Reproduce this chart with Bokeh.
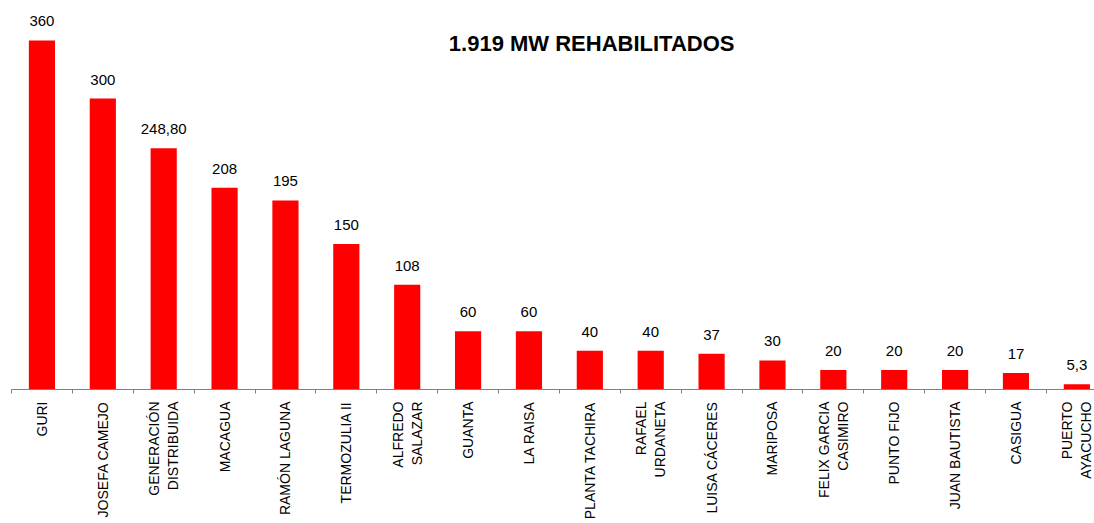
from bokeh.plotting import figure
from bokeh.models import Range1d, FixedTicker, ColumnDataSource, Label
from bokeh.core.properties import value
from bokeh.embed import file_html
from bokeh.resources import INLINE

categories = ["GURI", "JOSEFA CAMEJO", "GENERACIÓN\nDISTRIBUIDA", "MACAGUA", "RAMÓN LAGUNA",
              "TERMOZULIA II", "ALFREDO\nSALAZAR", "GUANTA", "LA RAISA", "PLANTA TACHIRA",
              "RAFAEL\nURDANETA", "LUISA CÁCERES", "MARIPOSA", "FELIX GARCIA\nCASIMIRO",
              "PUNTO FIJO", "JUAN BAUTISTA", "CASIGUA", "PUERTO\nAYACUCHO"]
values = [360, 300, 248.8, 208, 195, 150, 108, 60, 60, 40, 40, 37, 30, 20, 20, 20, 17, 5.3]
value_labels = ["360", "300", "248,80", "208", "195", "150", "108", "60", "60", "40", "40",
                "37", "30", "20", "20", "20", "17", "5,3"]
title_text = "1.919 MW REHABILITADOS"

xs = [i + 0.5 for i in range(len(categories))]
src = ColumnDataSource(dict(x=xs, top=values, lab=value_labels))

p = figure(width=1094, height=523, output_backend="svg", toolbar_location=None,
           x_range=Range1d(0, 17.79), y_range=Range1d(0, 401.2),
           min_border_left=11, min_border_right=0, min_border_top=0, min_border_bottom=134)
p.outline_line_color = None
p.xgrid.visible = False
p.ygrid.visible = False
p.yaxis.visible = False

p.vbar(x="x", top="top", width=0.43, bottom=0, source=src, color="#FF0000", line_color=None)
p.text(x="x", y="top", text="lab", source=src, text_align="center", text_baseline="alphabetic",
       y_offset=-19, text_font=value("Liberation Sans"), text_font_size="15px", text_color="#000000")

ax = p.xaxis[0]
ax.ticker = FixedTicker(ticks=xs, minor_ticks=list(range(len(categories) + 1)))
ax.major_label_overrides = {x: c for x, c in zip(xs, categories)}
ax.major_label_orientation = 1.5708
ax.major_label_text_font = "Liberation Sans"
ax.major_label_text_font_size = "14px"
ax.major_label_text_color = "#000000"
ax.major_label_text_align = "center"
ax.major_tick_line_color = None
ax.major_tick_in = 0
ax.major_tick_out = 4
ax.minor_tick_line_color = "#808080"
ax.minor_tick_in = 0
ax.minor_tick_out = 4
ax.axis_line_color = "#808080"
ax.major_label_standoff = 8

p.add_layout(Label(x=9.53, y=356.5, text=title_text, text_align="center", text_baseline="alphabetic",
                   text_font="Liberation Sans", text_font_size="22px", text_font_style="bold",
                   text_color="#000000"))

open("out.html", "w").write(file_html(p, INLINE))
